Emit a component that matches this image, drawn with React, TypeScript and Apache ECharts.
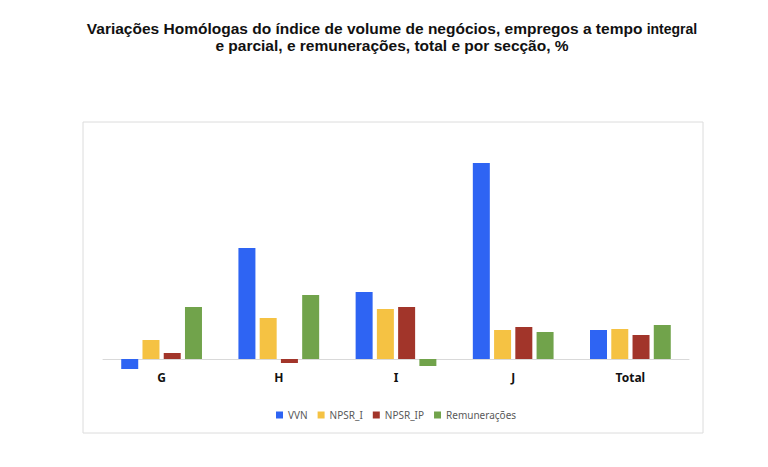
import { useEffect, useRef } from "react";
import * as echarts from "echarts";

const categories = ["G", "H", "I", "J", "Total"];
const seriesNames = ["VVN", "NPSR_I", "NPSR_IP", "Remunerações"];
const vvn = [-1.0, 11.1, 6.7, 19.6, 2.9];
const npsrI = [1.9, 4.1, 5.0, 2.9, 3.0];
const npsrIP = [0.6, -0.4, 5.2, 3.2, 2.4];
const remuneracoes = [5.2, 6.4, -0.7, 2.7, 3.4];
const colors = ["#2e64f3", "#f5c243", "#a2352a", "#71a34b"];

export default function App() {
  const chartRef = useRef<HTMLDivElement>(null);

  useEffect(() => {
    document.body.style.margin = "0";
    if (!chartRef.current) return;
    const chart = echarts.init(chartRef.current, null, { renderer: "svg" });
    const values = [vvn, npsrI, npsrIP, remuneracoes];

    chart.setOption({
      animation: false,
      backgroundColor: "#ffffff",
      title: {
        text: "{b|Variações Homólogas do índice de volume de negócios, empregos a tempo }{s|integral}\n{b|e parcial, e remunerações, total e por secção, %}",
        left: 387,
        textAlign: "center",
        top: 15,
        textStyle: {
          rich: {
            b: { fontFamily: "Liberation Sans, Arial", fontWeight: "bold", fontSize: 15.5, color: "#111", lineHeight: 17 },
            s: { fontFamily: "Liberation Sans, Arial", fontWeight: "bold", fontSize: 14, color: "#111", lineHeight: 17 },
          },
        },
      },
      graphic: [
        {
          type: "rect",
          shape: { x: 83, y: 122, width: 620, height: 311 },
          style: { fill: "none", stroke: "#dcdcdc", lineWidth: 1 },
          silent: true,
        },
      ],
      legend: {
        data: seriesNames,
        left: 396,
        top: 405,
        itemWidth: 7,
        itemHeight: 7,
        itemGap: 10,
        icon: "rect",
        textStyle: { fontFamily: "Noto Sans", fontSize: 10, color: "#595959" },
      },
      grid: { left: 103, right: 79, top: 159, height: 220 },
      xAxis: {
        type: "category",
        data: categories,
        axisLine: { lineStyle: { color: "#d9d9d9", width: 1 } },
        axisTick: { show: false },
        axisLabel: { fontFamily: "Noto Sans", fontWeight: "bold", fontSize: 12, color: "#111", margin: -8 },
      },
      yAxis: {
        type: "value",
        min: -2,
        max: 20,
        show: false,
        splitLine: { show: false },
      },
      series: seriesNames.map((name, i) => ({
        name,
        type: "bar",
        data: values[i],
        barWidth: 17,
        barGap: "25%",
        itemStyle: { color: colors[i] },
      })),
    });

    // center the legend block horizontally around x=396
    const legendModel: any = (chart as any).getModel().getComponent("legend");
    const legendView: any = legendModel && (chart as any).getViewOfComponentModel(legendModel);
    if (legendView && legendView.group) {
      const rect = legendView.group.getBoundingRect();
      chart.setOption({ legend: { left: Math.round(396 - rect.width / 2) } });
    }

    return () => {
      chart.dispose();
    };
  }, []);

  return <div ref={chartRef} style={{ width: 768, height: 467 }} />;
}
